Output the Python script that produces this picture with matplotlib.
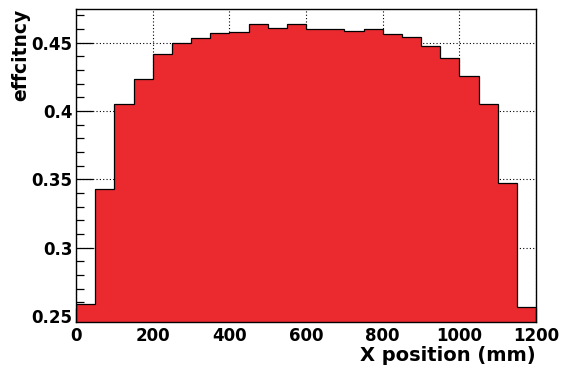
import numpy as np
import matplotlib.pyplot as plt
from matplotlib.ticker import MultipleLocator

plt.rcParams['font.family'] = ['DejaVu Sans']
plt.rcParams['font.weight'] = 'bold'

# bin edges (mm) and efficiency per bin
bin_edges = np.arange(0, 1250, 50)
efficiency = [0.2588, 0.3430, 0.4050, 0.4235, 0.4415, 0.4496, 0.4537, 0.4570,
              0.4581, 0.4640, 0.4608, 0.4635, 0.4599, 0.4601, 0.4588, 0.4603,
              0.4565, 0.4543, 0.4477, 0.4386, 0.4255, 0.4052, 0.3476, 0.2568]

fig = plt.figure(figsize=(5.61, 3.72), dpi=100)
ax = fig.add_axes([0.1355, 0.1352, 0.82, 0.8406])

ax.stairs(efficiency, bin_edges, baseline=0, fill=True, color='#EB2A2F', zorder=2)
ax.stairs(efficiency, bin_edges, baseline=0, fill=False, color='black', linewidth=0.9, zorder=3)

ax.set_xlim(0, 1200)
ax.set_ylim(0.2458, 0.4747)

ax.xaxis.set_major_locator(MultipleLocator(200))
ax.xaxis.set_minor_locator(MultipleLocator(50))
ax.yaxis.set_major_locator(MultipleLocator(0.05))
ax.yaxis.set_minor_locator(MultipleLocator(0.01))
ax.yaxis.set_major_formatter(plt.FuncFormatter(lambda v, p: f'{v:g}'))

ax.tick_params(which='both', direction='in', top=False, right=False, labelsize=12, width=0.9)
ax.tick_params(axis='x', which='major', length=10, pad=3.5)
ax.tick_params(axis='x', which='minor', length=5)
ax.tick_params(axis='y', which='major', length=12, pad=2.5)
ax.tick_params(axis='y', which='minor', length=6)

ax.grid(True, which='major', linestyle=(0, (1, 2)), color='black', linewidth=0.8, zorder=1)
ax.set_axisbelow(True)
for s in ax.spines.values():
    s.set_linewidth(1.0)
    s.set_zorder(4)

ax.set_xlabel('X position (mm)', fontsize=14, fontweight='bold', loc='right', labelpad=1)
ax.set_ylabel('effcitncy', fontsize=13.5, fontweight='bold', loc='top', labelpad=1)

fig.savefig('out.png', dpi=100)
